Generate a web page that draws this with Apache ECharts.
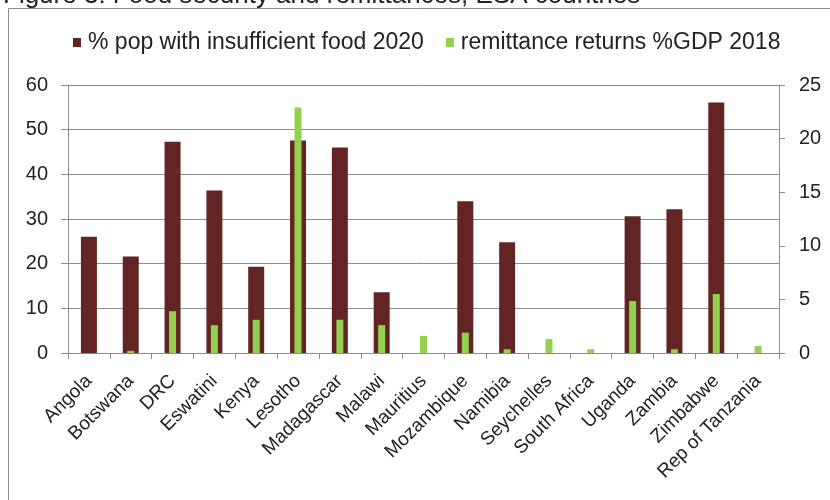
<!DOCTYPE html>
<html>
<head>
<meta charset="utf-8">
<script src="https://cdn.jsdelivr.net/npm/echarts@6/dist/echarts.min.js"></script>
<style>html,body{margin:0;padding:0;background:#fff;}#c{width:830px;height:500px;}</style>
</head>
<body>
<div id="c"></div>
<script>
const categories = ['Angola','Botswana','DRC','Eswatini','Kenya','Lesotho','Madagascar','Malawi','Mauritius','Mozambique','Namibia','Seychelles','South Africa','Uganda','Zambia','Zimbabwe','Rep of Tanzania'];
const foodInsufficient2020 = [26.0, 21.6, 47.3, 36.4, 19.3, 47.6, 46.0, 13.6, null, 34.0, 24.8, null, null, 30.6, 32.2, 56.1, null];
const remittanceGDP2018 = [null, 0.2, 3.9, 2.6, 3.1, 22.9, 3.1, 2.6, 1.6, 1.9, 0.35, 1.3, 0.35, 4.85, 0.35, 5.5, 0.65];
const leftTicks = {min: 0, max: 60, interval: 10};
const rightTicks = {min: 0, max: 25, interval: 5};
const titleText = 'Figure 3: Food security and remittances, ESA countries';
const seriesNames = ['% pop with insufficient food 2020', 'remittance returns %GDP 2018'];

const FONT = 'Liberation Sans, Arial, sans-serif';
const GRAY = '#8c8c8c';
const chart = echarts.init(document.getElementById('c'), null, {renderer: 'canvas'});
chart.setOption({
  animation: false,
  backgroundColor: '#fff',
  graphic: [
    {type: 'rect', shape: {x: 8.5, y: 8.5, width: 840, height: 520}, style: {fill: 'none', stroke: GRAY, lineWidth: 1}, z: -1},
    {type: 'text', left: 3, top: -17, style: {text: titleText, font: '26px ' + FONT, fill: '#222'}}
  ],
  legend: {
    left: 73, top: 31, padding: 0,
    itemWidth: 8, itemHeight: 9, itemGap: 22,
    icon: 'rect',
    textStyle: {fontFamily: FONT, fontSize: 23, color: '#222', padding: [0, 0, 0, 2]},
    data: seriesNames
  },
  grid: {left: 68, right: 51, top: 85, bottom: 147, containLabel: false},
  xAxis: [
    {
      type: 'category', data: categories,
      axisLine: {show: true, lineStyle: {color: GRAY, width: 1}},
      axisTick: {show: true, length: 6, alignWithLabel: false, lineStyle: {color: GRAY}},
      axisLabel: {rotate: 45, interval: 0, margin: 25, fontFamily: FONT, fontSize: 19, color: '#222'},
      splitLine: {show: false}
    },
    {type: 'category', data: categories, show: false, position: 'bottom'}
  ],
  yAxis: [
    {
      type: 'value', min: leftTicks.min, max: leftTicks.max, interval: leftTicks.interval,
      axisLine: {show: true, lineStyle: {color: GRAY, width: 1}},
      axisTick: {show: true, length: 7, inside: false, lineStyle: {color: GRAY}},
      axisLabel: {margin: 20, fontFamily: FONT, fontSize: 20, color: '#222'},
      splitLine: {show: true, lineStyle: {color: GRAY, width: 1}}
    },
    {
      type: 'value', position: 'right', min: rightTicks.min, max: rightTicks.max, interval: rightTicks.interval,
      axisLine: {show: true, lineStyle: {color: GRAY, width: 1}},
      axisTick: {show: true, length: 6, lineStyle: {color: GRAY}},
      axisLabel: {margin: 20, fontFamily: FONT, fontSize: 20, color: '#222'},
      splitLine: {show: false}
    }
  ],
  series: [
    {name: seriesNames[0], type: 'bar', data: foodInsufficient2020, xAxisIndex: 0, yAxisIndex: 0, barWidth: 16, itemStyle: {color: '#632523'}},
    {name: seriesNames[1], type: 'bar', data: remittanceGDP2018, xAxisIndex: 1, yAxisIndex: 1, barWidth: 7, itemStyle: {color: '#92d050'}, z: 3}
  ]
});
</script>
</body>
</html>
